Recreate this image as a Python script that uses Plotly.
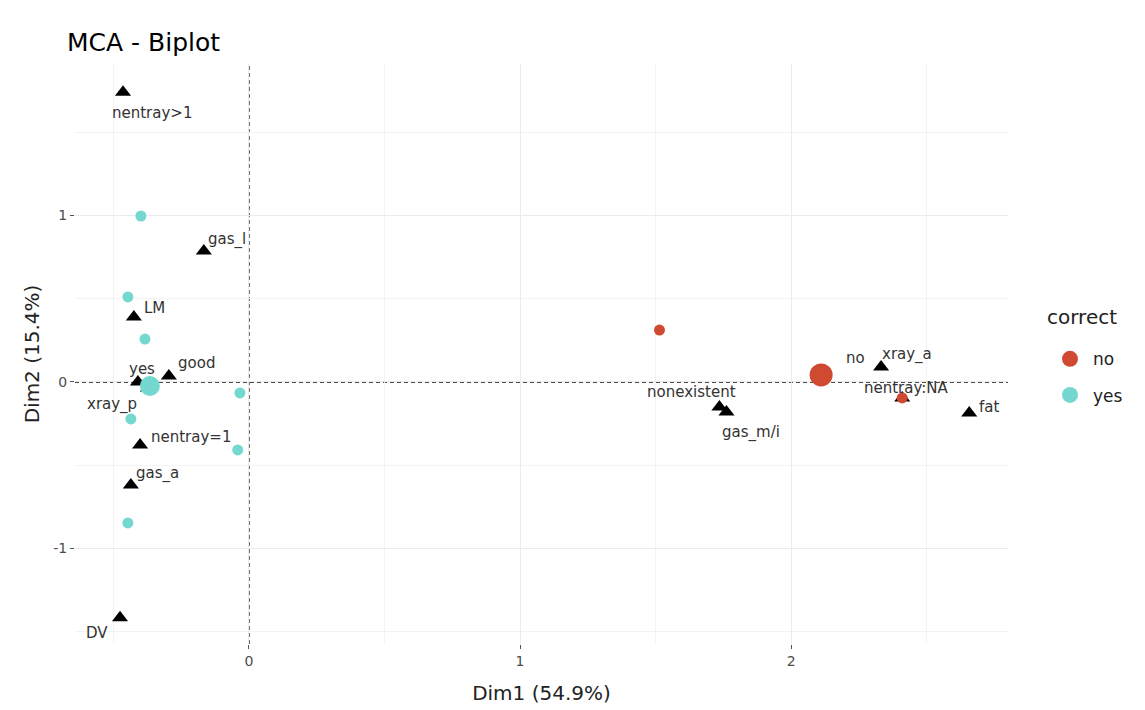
import plotly.graph_objects as go

# Variable categories (black triangles)
var_labels = ["nentray>1", "gas_l", "LM", "good", "yes", "xray_p", "nentray=1",
              "gas_a", "DV", "nonexistent", "gas_m/i", "no", "xray_a",
              "nentray:NA", "fat"]
var_dim1 = [-0.464, -0.166, -0.424, -0.295, -0.409, -0.372, -0.401,
            -0.435, -0.475, 1.735, 1.761, 2.110, 2.331, 2.409, 2.656]
var_dim2 = [1.741, 0.787, 0.390, 0.036, 0.000, -0.036, -0.378,
            -0.619, -1.417, -0.150, -0.180, 0.048, 0.090, -0.096, -0.186]

# Individuals coloured by "correct"
yes_dim1 = [-0.398, -0.446, -0.383, -0.435, -0.033, -0.041, -0.446]
yes_dim2 = [0.997, 0.511, 0.258, -0.222, -0.066, -0.408, -0.847]
no_dim1 = [1.514, 2.409]
no_dim2 = [0.312, -0.096]

# Group mean points
mean_groups = ["no", "yes"]
mean_dim1 = [2.110, -0.365]
mean_dim2 = [0.042, -0.024]

x_ticks = [0, 1, 2]
y_ticks = [-1, 0, 1]

# label offsets in pixels (style only)
label_shift = {
    "nentray>1": (29, -21), "gas_l": (23, 11), "LM": (21, 9), "good": (28, 13),
    "yes": (4, 13), "xray_p": (-36, -17), "nentray=1": (51, 8), "gas_a": (27, 12),
    "DV": (-23, -15), "nonexistent": (-28, 15), "gas_m/i": (25, -21), "no": (34, 16),
    "xray_a": (26, 12), "nentray:NA": (4, 10), "fat": (20, 6),
}

RED = "#CF4A31"
CYAN = "#74D8D1"
FONT = "DejaVu Sans"

W, H = 1137, 702  # page body has an 8px margin

fig = go.Figure()

fig.add_trace(go.Scatter(
    x=var_dim1, y=var_dim2, mode="markers",
    marker=dict(symbol="triangle-up", size=14, color="black"),
    showlegend=False, hoverinfo="text", text=var_labels))

fig.add_trace(go.Scatter(
    x=yes_dim1, y=yes_dim2, mode="markers",
    marker=dict(size=11, color=CYAN), showlegend=False))
fig.add_trace(go.Scatter(
    x=no_dim1, y=no_dim2, mode="markers",
    marker=dict(size=11, color=RED), showlegend=False))

fig.add_trace(go.Scatter(
    x=[mean_dim1[0]], y=[mean_dim2[0]], mode="markers",
    marker=dict(size=23, color=RED), showlegend=False))
fig.add_trace(go.Scatter(
    x=[mean_dim1[1]], y=[mean_dim2[1]], mode="markers",
    marker=dict(size=20, color=CYAN), showlegend=False))

# legend entries
fig.add_trace(go.Scatter(x=[None], y=[None], mode="markers", name="no",
                         legendgroup="no", marker=dict(size=16, color=RED)))
fig.add_trace(go.Scatter(x=[None], y=[None], mode="markers", name="yes",
                         legendgroup="yes", marker=dict(size=16, color=CYAN)))

for lab, xv, yv in zip(var_labels, var_dim1, var_dim2):
    dx, dy = label_shift[lab]
    fig.add_annotation(x=xv, y=yv, text=lab, showarrow=False,
                       xshift=dx, yshift=dy,
                       font=dict(family=FONT, size=15, color="#333333"))

# legend title drawn as text
fig.add_annotation(x=1.0397, y=0.564, xref="paper", yref="paper", text="correct",
                   showarrow=False, xanchor="left", yanchor="middle",
                   font=dict(family=FONT, size=20, color="#222222"))

fig.add_shape(type="line", xref="x", yref="paper", x0=0, x1=0, y0=0, y1=1,
              line=dict(color="#111111", width=1.5, dash="4px,3px"), layer="between")
fig.add_shape(type="line", xref="paper", yref="y", x0=0, x1=1, y0=0, y1=0,
              line=dict(color="#111111", width=1.5, dash="4px,3px"), layer="between")

axis_common = dict(
    showgrid=True, gridcolor="#EBEBEB", gridwidth=1, zeroline=False, automargin=False,
    showline=False, ticks="outside", ticklen=4, tickwidth=1, tickcolor="#555555",
    tickfont=dict(family=FONT, size=14, color="#4D4D4D"),
)

fig.update_layout(
    width=W, height=H,
    margin=dict(l=67, r=137, t=56, b=66, autoexpand=False),
    paper_bgcolor="white", plot_bgcolor="white",
    title=dict(text="MCA - Biplot", x=59 / W, xref="container", xanchor="left",
               y=1 - 34 / H, yref="container", yanchor="middle",
               font=dict(family=FONT, size=25, color="black"), automargin=False),
    xaxis=dict(range=[-0.641, 2.799], tickvals=x_ticks, ticktext=[str(v) for v in x_ticks],
               minor=dict(tickvals=[-0.5, 0.5, 1.5, 2.5], showgrid=True,
                          gridcolor="#F3F3F3", ticks=""),
               title=dict(text="Dim1 (54.9%)", standoff=18,
                          font=dict(family=FONT, size=20, color="#222222")),
               **axis_common),
    yaxis=dict(range=[-1.574, 1.910], tickvals=y_ticks, ticktext=[str(v) for v in y_ticks],
               minor=dict(tickvals=[-1.5, -0.5, 0.5, 1.5], showgrid=True,
                          gridcolor="#F3F3F3", ticks=""),
               title=dict(text="Dim2 (15.4%)", standoff=8,
                          font=dict(family=FONT, size=20, color="#222222")),
               **axis_common),
    legend=dict(x=1.0418, xanchor="left", y=0.522, yanchor="top",
                font=dict(family=FONT, size=17, color="#222222"),
                tracegroupgap=11, itemsizing="trace", itemwidth=36,
                bgcolor="rgba(0,0,0,0)"),
    showlegend=True,
)

fig.write_html("out.html")
